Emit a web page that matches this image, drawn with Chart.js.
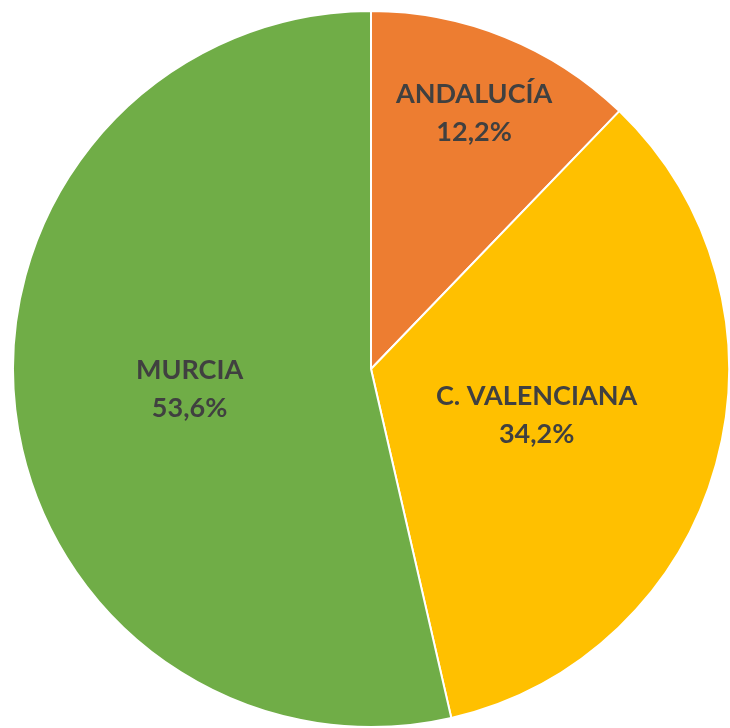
<!DOCTYPE html>
<html>
<head>
<meta charset="utf-8">
<script src="https://cdn.jsdelivr.net/npm/chart.js@4"></script>
<style>
  html, body { margin: 0; padding: 0; background: #fff; }
  #wrap { width: 730px; height: 728px; }
</style>
</head>
<body>
<div id="wrap"><canvas id="pieChart" width="730" height="728"></canvas></div>
<script>
// Chart data
const regions = ["ANDALUCÍA", "C. VALENCIANA", "MURCIA"];
const shares = [12.2, 34.2, 53.6];
const sliceColors = ["#ED7D31", "#FFC000", "#70AD47"];

// how far out (fraction of radius) each label sits, like Excel's best fit
const labelDist = [0.77, 0.48, 0.51];

const labelPlugin = {
  id: "sliceLabels",
  afterDatasetsDraw(chart) {
    const ctx = chart.ctx;
    const meta = chart.getDatasetMeta(0);
    ctx.save();
    ctx.fillStyle = "#404040";
    ctx.font = "bold 27px Lato";
    ctx.textAlign = "center";
    ctx.textBaseline = "middle";
    meta.data.forEach((arc, i) => {
      const p = arc.getProps(["x", "y", "startAngle", "endAngle", "outerRadius"], true);
      const mid = (p.startAngle + p.endAngle) / 2;
      const d = p.outerRadius * labelDist[i];
      const cx = p.x + Math.cos(mid) * d;
      const cy = p.y + Math.sin(mid) * d;
      ctx.fillText(regions[i], cx, cy - 19);
      ctx.fillText(shares[i].toFixed(1).replace(".", ",") + "%", cx, cy + 19);
    });
    ctx.restore();
  },
};

new Chart(document.getElementById("pieChart"), {
  type: "pie",
  data: {
    labels: regions,
    datasets: [
      {
        data: shares,
        backgroundColor: sliceColors,
        borderColor: "#ffffff",
        borderWidth: 2,
      },
    ],
  },
  options: {
    responsive: false,
    animation: false,
    layout: { padding: { left: 12, right: 0, top: 10, bottom: 0 } },
    plugins: {
      legend: { display: false },
      tooltip: { enabled: false },
    },
  },
  plugins: [labelPlugin],
});
</script>
</body>
</html>
